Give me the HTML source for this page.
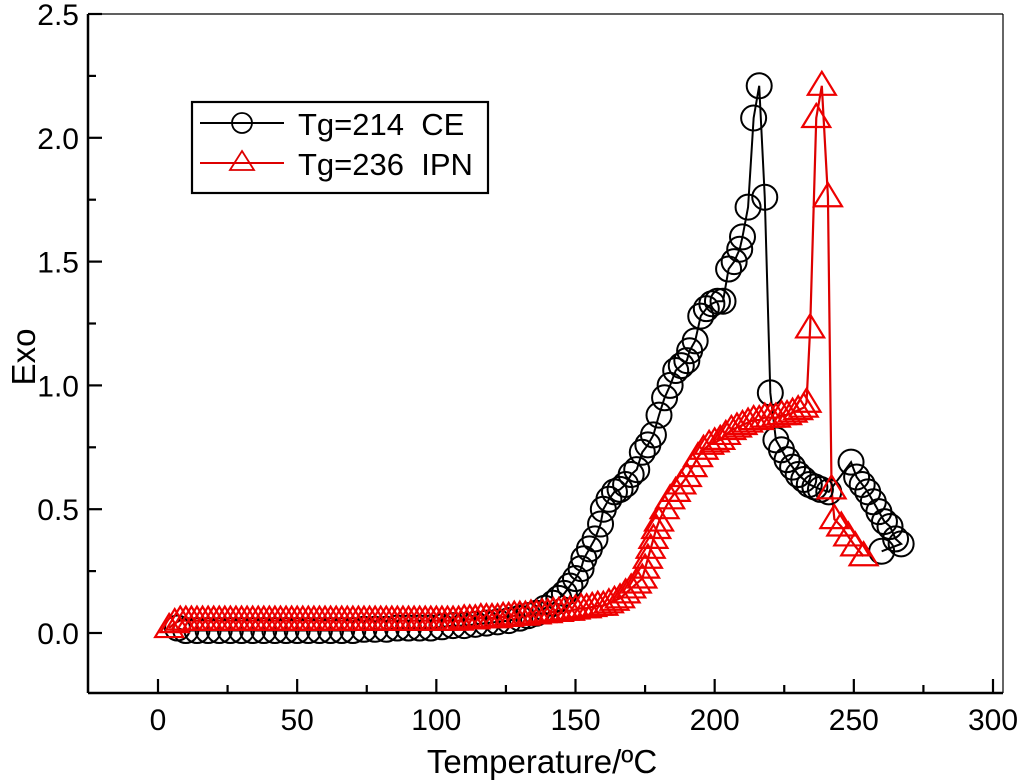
<!DOCTYPE html>
<html><head><meta charset="utf-8"><style>
html,body{margin:0;padding:0;background:#fff}
svg{display:block}
text{font-family:"Liberation Sans",Arial,sans-serif;fill:#000}
.tick{font-size:30px}
</style></head><body>
<svg id="chart" width="1024" height="780" viewBox="0 0 1024 780" xmlns="http://www.w3.org/2000/svg">
<g id="plot"></g>
<g id="axes"></g>
<text x="542" y="773" font-size="33" text-anchor="middle">Temperature/ºC</text>
<text x="0" y="0" font-size="33" text-anchor="middle" transform="translate(35,357) rotate(-90)">Exo</text>
<g>
<rect x="192" y="102" width="296" height="91" fill="#fff" stroke="#000" stroke-width="2.2"/>
<g>
<line x1="200" y1="123" x2="284" y2="123" stroke="#000" stroke-width="2"/>
<circle cx="242" cy="123" r="10" fill="none" stroke="#000" stroke-width="1.8"/>
<text x="298" y="135" font-size="31">Tg=214&#160;&#160;CE</text></g>
<g>
<line x1="200" y1="163" x2="284" y2="163" stroke="#d00" stroke-width="2"/>
<polygon points="242,151 254,170 230,170" fill="none" stroke="#d00" stroke-width="1.8"/>
<text x="298" y="175" font-size="31">Tg=236&#160;&#160;IPN</text></g>
</g>
</svg>
<script>
// CE series (circles)
const ceT=[7,10,14,18,22,26,30,34,38,42,46,50,54,58,62,66,70,74,78,82,86,90,94,98,102,106,110,114,118,122,126,130,133,136,139,142,144,146,148,150,152,153,155,157,159,160,162,164,166,168,170,172,174,176,178,180,182,184,186,188,190,191,193,195,197,199,201,203,205,207,209,210,212,214,216,218,220,222,224,226,228,230,232,234,236,238,241,249,251,253,255,257,259,261,263,265,267,260];
const ceV=[0.02,0.01,0.01,0.01,0.01,0.01,0.01,0.01,0.01,0.01,0.01,0.01,0.01,0.01,0.01,0.01,0.01,0.015,0.015,0.015,0.02,0.02,0.02,0.02,0.025,0.03,0.03,0.035,0.04,0.045,0.05,0.06,0.07,0.08,0.1,0.12,0.14,0.16,0.19,0.22,0.26,0.3,0.34,0.38,0.44,0.5,0.54,0.57,0.58,0.6,0.64,0.66,0.73,0.76,0.8,0.88,0.95,1.0,1.06,1.08,1.1,1.14,1.18,1.28,1.31,1.33,1.34,1.34,1.47,1.5,1.55,1.6,1.72,2.08,2.21,1.76,0.97,0.78,0.74,0.7,0.67,0.64,0.62,0.6,0.59,0.58,0.57,0.69,0.63,0.6,0.57,0.53,0.49,0.45,0.43,0.38,0.36,0.33];
// IPN series (triangles)
const ipT=[4,6,8,10,12,14,16,18,20,22,24,26,28,30,32,34,36,38,40,42,44,46,48,50,52,54,56,58,60,62,64,66,68,70,72,74,76,78,80,82,84,86,88,90,92,94,96,98,100,102,104,106,108,110,112,114,116,118,120,122,124,126,128,130,132,134,136,138,140,142,144,146,148,150,152,154,156,158,160,162,164,166,168,170,172,174,175,176,177,178,179,180,182,184,186,188,190,192,194,196,198,200,202,204,206,208,210,212,214,216,218,220,222,224,226,228,230,232,233,234.3,236.5,238.5,240.7,242,243,245.5,248,250.5,253.5];
const ipV=[0.02,0.04,0.05,0.05,0.05,0.05,0.05,0.05,0.05,0.05,0.05,0.05,0.05,0.05,0.05,0.05,0.05,0.05,0.05,0.05,0.05,0.05,0.05,0.05,0.05,0.05,0.05,0.05,0.05,0.05,0.05,0.05,0.05,0.05,0.05,0.05,0.05,0.05,0.05,0.05,0.05,0.05,0.05,0.05,0.05,0.05,0.05,0.05,0.05,0.05,0.05,0.05,0.05,0.055,0.055,0.055,0.06,0.06,0.06,0.06,0.065,0.065,0.07,0.07,0.07,0.075,0.075,0.08,0.08,0.085,0.085,0.09,0.09,0.095,0.1,0.1,0.105,0.11,0.11,0.12,0.13,0.14,0.16,0.18,0.2,0.22,0.26,0.3,0.34,0.38,0.42,0.45,0.5,0.54,0.57,0.6,0.63,0.67,0.71,0.74,0.76,0.77,0.78,0.8,0.82,0.83,0.84,0.85,0.86,0.86,0.87,0.87,0.87,0.88,0.88,0.89,0.9,0.91,0.93,1.23,2.08,2.21,1.76,0.58,0.46,0.43,0.39,0.35,0.31];
const xTicks=[0,50,100,150,200,250,300];
const yTicks=[0,0.5,1,1.5,2,2.5];
const yTickLabels=["0.0","0.5","1.0","1.5","2.0","2.5"];
const NS="http://www.w3.org/2000/svg";
const L=88,R=1003,T=14,B=693;
function sx(t){return 158+t*(993-158)/300;}
function sy(v){return 633-v*(633-14)/2.5;}
function mk(tag,attrs,parent){const e=document.createElementNS(NS,tag);for(const k in attrs)e.setAttribute(k,attrs[k]);parent.appendChild(e);return e;}
const plot=document.getElementById('plot'),axes=document.getElementById('axes');
let p1=ceT.map((t,i)=>sx(t)+','+sy(ceV[i])).join(' ');
const l1=mk('polyline',{points:p1,fill:'none',stroke:'#000','stroke-width':2},plot);


let p2=ipT.map((t,i)=>sx(t)+','+sy(ipV[i])).join(' ');
const l2=mk('polyline',{points:p2,fill:'none',stroke:'#d00','stroke-width':2.2},plot);


ceT.forEach((t,i)=>{const c=mk('circle',{cx:sx(t),cy:sy(ceV[i]),r:12.5,fill:'none',stroke:'#000','stroke-width':2},plot);

});
ipT.forEach((t,i)=>{const x=sx(t),y=sy(ipV[i]);const g=mk('polygon',{points:`${x},${y-14} ${x+14},${y+9} ${x-14},${y+9}`,fill:'none',stroke:'#e00','stroke-width':2.2},plot);

});
mk('line',{x1:L,y1:T,x2:R,y2:T,stroke:'#000','stroke-width':1.2},axes);
mk('line',{x1:R,y1:T,x2:R,y2:B,stroke:'#000','stroke-width':1.2},axes);
const xa=mk('line',{x1:L,y1:B,x2:R,y2:B,stroke:'#000','stroke-width':2.5},axes);


const ya=mk('line',{x1:L,y1:T,x2:L,y2:B,stroke:'#000','stroke-width':2.5},axes);


xTicks.forEach((t,i)=>{const x=sx(t);mk('line',{x1:x,y1:B,x2:x,y2:B-14,stroke:'#000','stroke-width':2.2},axes);
if(i<xTicks.length-1){const m=sx(t+25);mk('line',{x1:m,y1:B,x2:m,y2:B-8,stroke:'#000','stroke-width':2.2},axes);}
const tx=mk('text',{x:x,y:730,'class':'tick','text-anchor':'middle'},axes);tx.textContent=String(t);

});
yTicks.forEach((v,i)=>{const y=sy(v);mk('line',{x1:L,y1:y,x2:L+14,y2:y,stroke:'#000','stroke-width':2.2},axes);
if(i<yTicks.length-1){const m=sy(v+0.25);mk('line',{x1:L,y1:m,x2:L+8,y2:m,stroke:'#000','stroke-width':2.2},axes);}
const tx=mk('text',{x:79,y:y+11,'class':'tick','text-anchor':'end'},axes);tx.textContent=yTickLabels[i];

});
</script>
</body></html>
